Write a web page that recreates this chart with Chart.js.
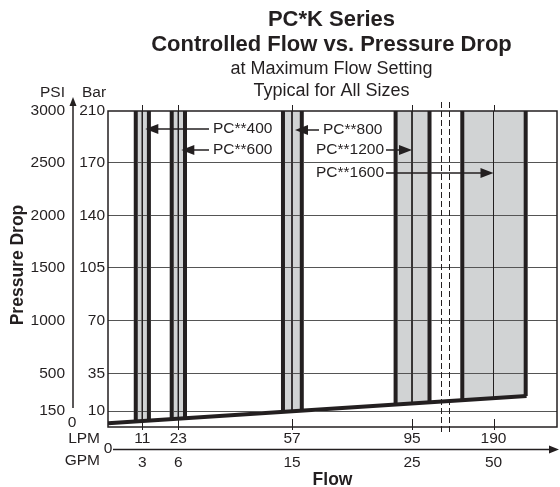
<!DOCTYPE html>
<html>
<head>
<meta charset="utf-8">
<script src="https://cdn.jsdelivr.net/npm/chart.js@4/dist/chart.umd.min.js"></script>
<style>
html,body{margin:0;padding:0;background:#fff;}
#c{display:block;}
</style>
</head>
<body>
<canvas id="c" width="560" height="487"></canvas>
<script>
// ---------------- data ----------------
const models = ['PC**400', 'PC**600', 'PC**800', 'PC**1200', 'PC**1600'];
const nominalLPM = [11, 23, 57, 95, 190];          // flow tick labels (LPM)
const nominalGPM = [3, 6, 15, 25, 50];             // flow tick labels (GPM)
const bandMinLPM = [8.9, 20.8, 54.3, 89.8, 153.6]; // controlled-flow band, low edge
const bandMaxLPM = [13.2, 25.0, 60.1, 115.4, 227.5]; // controlled-flow band, high edge
const dropAtMinBar = [3.4, 4.9, 9.4, 14.2, 17.2];  // min pressure drop at low edge
const dropAtMaxBar = [4.0, 5.4, 10.2, 15.7, 19.9]; // min pressure drop at high edge
const dropAtNominalBar = [3.7, 5.1, 9.8, 14.9, 18.5];
const maxPressureBar = 210;
const minDropLineLPM = [0, 228.5];
const minDropLineBar = [2.3, 19.9];
const barTicks = [0, 10, 35, 70, 105, 140, 170, 210];
const barLabels = ['', '10', '35', '70', '105', '140', '170', '210'];
const psiLabels = ['', '150', '500', '1000', '1500', '2000', '2500', '3000'];
const axisBreakLPM = [129, 138];
const flowMaxLPM = 264;

// ---------------- schematic (non-uniform) axis layout ----------------
const KNOTS = {
  x: {v: [0, 11, 23, 57, 95, 190, flowMaxLPM], f: [0, 0.0764, 0.1566, 0.4098, 0.6771, 0.8586, 1]},
  y: {v: [0, 10, 35, 70, 105, 140, 170, 210], f: [0, 0.0506, 0.170, 0.3364, 0.5032, 0.6687, 0.8377, 1]}
};
const TICKVALS = {x: nominalLPM, y: barTicks};

class PiecewiseScale extends Chart.LinearScale {
  static id = 'piecewise';
  static defaults = {};
  _toDec(v) {
    const k = KNOTS[this.axis], vs = k.v, fs = k.f;
    let i = 1;
    while (i < vs.length - 1 && v > vs[i]) i++;
    const a = i - 1;
    return fs[a] + (v - vs[a]) * (fs[i] - fs[a]) / (vs[i] - vs[a]);
  }
  _fromDec(d) {
    const k = KNOTS[this.axis], vs = k.v, fs = k.f;
    let i = 1;
    while (i < fs.length - 1 && d > fs[i]) i++;
    const a = i - 1;
    return vs[a] + (d - fs[a]) * (vs[i] - vs[a]) / (fs[i] - fs[a]);
  }
  getPixelForValue(v) {
    if (v === null || v === undefined || isNaN(v)) return NaN;
    return this.getPixelForDecimal(this._toDec(v));
  }
  getValueForPixel(p) { return this._fromDec(this.getDecimalForPixel(p)); }
  buildTicks() { return TICKVALS[this.axis].map(v => ({value: v})); }
}
Chart.register(PiecewiseScale);

// ---------------- styles ----------------
const FONT = '"Liberation Sans", Arial, Helvetica, sans-serif';
const INK = '#231f20';
const BAND = '#d1d3d4';
const GRID = '#555555';
const tickFont = {family: FONT, size: 15.5};

// ---------------- datasets ----------------
const datasets = [];
models.forEach((m, i) => {
  datasets.push({
    label: m + ' band', order: 5,
    data: [{x: bandMinLPM[i], y: maxPressureBar}, {x: bandMaxLPM[i], y: maxPressureBar}],
    borderWidth: 0, backgroundColor: BAND, fill: '+1', pointRadius: 0
  });
  datasets.push({
    label: m + ' min drop', order: 5,
    data: [{x: bandMinLPM[i], y: dropAtMinBar[i]}, {x: bandMaxLPM[i], y: dropAtMaxBar[i]}],
    borderWidth: 0, fill: false, pointRadius: 0
  });
});
models.forEach((m, i) => {
  datasets.push({
    label: m + ' nominal', order: 3,
    data: [{x: nominalLPM[i], y: maxPressureBar}, {x: nominalLPM[i], y: dropAtNominalBar[i]}],
    borderColor: INK, borderWidth: 1, fill: false, pointRadius: 0
  });
  datasets.push({
    label: m + ' low edge', order: 1,
    data: [{x: bandMinLPM[i], y: maxPressureBar}, {x: bandMinLPM[i], y: dropAtMinBar[i]}],
    borderColor: INK, borderWidth: 4, fill: false, pointRadius: 0
  });
  datasets.push({
    label: m + ' high edge', order: 1,
    data: [{x: bandMaxLPM[i], y: maxPressureBar}, {x: bandMaxLPM[i], y: dropAtMaxBar[i]}],
    borderColor: INK, borderWidth: 4, fill: false, pointRadius: 0
  });
});
datasets.push({
  label: 'minimum pressure drop', order: 0,
  data: minDropLineLPM.map((x, i) => ({x, y: minDropLineBar[i]})),
  borderColor: INK, borderWidth: 4, fill: false, pointRadius: 0, borderCapStyle: 'butt'
});

// ---------------- annotation layout ----------------
const callouts = [
  {band: 0, y: 129, textX: 213, dir: 'left'},
  {band: 1, y: 150, textX: 213, dir: 'left'},
  {band: 2, y: 130, textX: 323, dir: 'left'},
  {band: 3, y: 150, textX: 384, dir: 'right'},
  {band: 4, y: 173, textX: 384, dir: 'right'}
];

function arrowHead(ctx, tx, ty, dx, dy, len, half) {
  const bx = tx - dx * len, by = ty - dy * len;
  ctx.beginPath();
  ctx.moveTo(tx, ty);
  ctx.lineTo(bx - dy * half, by + dx * half);
  ctx.lineTo(bx + dy * half, by - dx * half);
  ctx.closePath();
  ctx.fill();
}

const decor = {
  id: 'decor',
  beforeDraw(chart) {
    const c = chart.ctx;
    c.save();
    c.fillStyle = '#fff';
    c.fillRect(0, 0, chart.width, chart.height);
    c.restore();
  },
  afterDatasetsDraw(chart) {
    chart.ctx.globalCompositeOperation = 'darken';
  },
  afterDraw(chart) {
    const c = chart.ctx;
    c.globalCompositeOperation = 'source-over';
    const a = chart.chartArea;
    const xs = chart.scales.x, ys = chart.scales.y, y2 = chart.scales.y2;
    c.save();
    c.strokeStyle = INK; c.fillStyle = INK;

    // plot frame
    c.lineWidth = 1.5;
    c.strokeRect(a.left, a.top, a.right - a.left, a.bottom - a.top);

    // flow tick marks top & bottom
    c.lineWidth = 1;
    nominalLPM.forEach(v => {
      const px = Math.round(xs.getPixelForValue(v)) + 0.5;
      c.beginPath();
      c.moveTo(px, a.top - 6); c.lineTo(px, a.top);
      c.moveTo(px, a.bottom - 8); c.lineTo(px, a.bottom + 3);
      c.stroke();
    });

    // axis break (dashed double line)
    c.setLineDash([6, 3]);
    axisBreakLPM.forEach(v => {
      const px = Math.round(xs.getPixelForValue(v)) + 0.5;
      c.beginPath();
      c.moveTo(px, a.top - 9); c.lineTo(px, a.bottom + 6);
      c.stroke();
    });
    c.setLineDash([]);

    // vertical pressure axis arrow
    const ax = y2.right + 8;
    c.lineWidth = 1.5;
    c.beginPath(); c.moveTo(ax, ys.getPixelForValue(10) - 3); c.lineTo(ax, 104); c.stroke();
    arrowHead(c, ax, 97, 0, -1, 9, 3.5);

    // horizontal flow axis arrow
    const hy = 449.5;
    c.beginPath(); c.moveTo(113, hy); c.lineTo(552, hy); c.stroke();
    arrowHead(c, 559, hy, 1, 0, 10, 4);

    // texts
    c.textBaseline = 'middle';
    c.font = '15.5px ' + FONT;
    c.textAlign = 'right';
    c.fillText('PSI', y2.right, 93);
    c.fillText('LPM', 100, 439);
    c.fillText('GPM', 100, 461);
    c.textAlign = 'left';
    c.fillText('Bar', 82, 93);
    c.textAlign = 'center';
    c.fillText('0', ax - 1, 423);
    c.fillText('0', 108, 449);

    // axis titles
    const cx = (a.left + a.right) / 2;
    c.font = 'bold 17.5px ' + FONT;
    c.textBaseline = 'alphabetic';
    c.fillText('Flow', cx, 485);
    c.save();
    c.translate(22.5, (a.top + a.bottom) / 2 - 4);
    c.rotate(-Math.PI / 2);
    c.fillText('Pressure Drop', 0, 0);
    c.restore();

    // chart title
    c.font = 'bold 22px ' + FONT;
    c.fillText('PC*K Series', cx - 1, 26);
    c.fillText('Controlled Flow vs. Pressure Drop', cx - 1, 51);
    c.font = '18px ' + FONT;
    c.fillText('at Maximum Flow Setting', cx - 1, 74);
    c.fillText('Typical for All Sizes', cx - 1, 96);

    // callouts
    c.font = '15.5px ' + FONT;
    c.textBaseline = 'middle';
    c.lineWidth = 1.5;
    callouts.forEach(co => {
      const tipBase = xs.getPixelForValue(nominalLPM[co.band]);
      let tip, start;
      if (co.dir === 'left') {
        tip = tipBase + 3; start = co.textX - 4;
        c.textAlign = 'left';
        c.fillText(models[co.band], co.textX, co.y);
        c.beginPath(); c.moveTo(start, co.y); c.lineTo(tip + 8, co.y); c.stroke();
        arrowHead(c, tip, co.y, -1, 0, 13, 5);
      } else {
        tip = tipBase; start = co.textX + 2;
        c.textAlign = 'right';
        c.fillText(models[co.band], co.textX, co.y);
        c.beginPath(); c.moveTo(start, co.y); c.lineTo(tip - 8, co.y); c.stroke();
        arrowHead(c, tip, co.y, 1, 0, 13, 5);
      }
    });
    c.restore();
  }
};

new Chart(document.getElementById('c').getContext('2d'), {
  type: 'line',
  data: {datasets},
  options: {
    responsive: false,
    animation: false,
    devicePixelRatio: 1,
    layout: {padding: {top: 111, right: 3, bottom: 0, left: 0}},
    plugins: {legend: {display: false}, tooltip: {enabled: false}, title: {display: false}},
    elements: {point: {radius: 0}, line: {tension: 0}},
    scales: {
      x: {
        type: 'piecewise', position: 'bottom', weight: 0, min: 0, max: flowMaxLPM,
        grid: {display: false, drawTicks: false}, border: {display: false},
        ticks: {autoSkip: false, maxRotation: 0, padding: 2, color: INK, font: tickFont,
                callback: (v, i) => String(nominalLPM[i])},
        afterFit: s => { s.height = 22; }
      },
      x2: {
        type: 'piecewise', position: 'bottom', weight: 1, min: 0, max: flowMaxLPM,
        grid: {display: false, drawTicks: false}, border: {display: false},
        ticks: {autoSkip: false, maxRotation: 0, padding: 4, color: INK, font: tickFont,
                callback: (v, i) => String(nominalGPM[i])},
        afterFit: s => { s.height = 38; }
      },
      y: {
        type: 'piecewise', position: 'left', weight: 0, min: 0, max: maxPressureBar,
        grid: {z: 1, drawTicks: false, lineWidth: 1,
               color: ctx => (ctx.tick && (ctx.tick.value === 0 || ctx.tick.value === maxPressureBar)) ? 'rgba(0,0,0,0)' : GRID},
        border: {display: false},
        ticks: {padding: 3, color: INK, font: tickFont, callback: (v, i) => barLabels[i]},
        afterFit: s => { s.width = 43; }
      },
      y2: {
        type: 'piecewise', position: 'left', weight: 1, min: 0, max: maxPressureBar,
        grid: {display: false, drawTicks: false}, border: {display: false},
        ticks: {padding: 0, color: INK, font: tickFont, callback: (v, i) => psiLabels[i]},
        afterFit: s => { s.width = 65; }
      }
    }
  },
  plugins: [decor]
});
</script>
</body>
</html>
